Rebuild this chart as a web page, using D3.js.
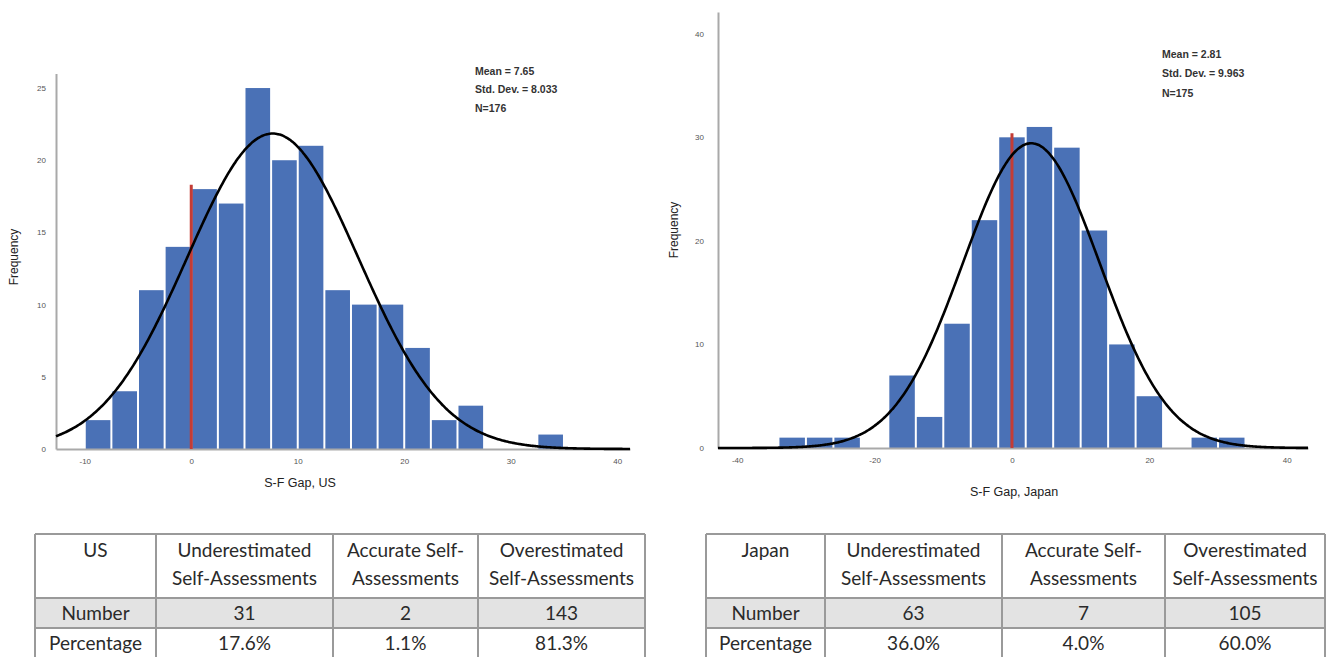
<!DOCTYPE html>
<html><head><meta charset="utf-8">
<script src="https://cdn.jsdelivr.net/npm/d3@7"></script>
<style>
html,body{margin:0;padding:0;background:#fff;}
svg{display:block;}
</style></head>
<body>
<svg id="chart" width="1333" height="657"></svg>
<script>
// ---------- DATA ----------
const usBinStart = [-10,-7.5,-5,-2.5,0,2.5,5,7.5,10,12.5,15,17.5,20,22.5,25,27.5,30,32.5];
const usCounts   = [2,4,11,14,18,17,25,20,21,11,10,10,7,2,3,0,0,1];
const usBinWidth = 2.5;
const usMean = 7.65, usSD = 8.033, usN = 176;
const usRefHeight = 18.3;
const usStatsText = ["Mean = 7.65","Std. Dev. = 8.033","N=176"];
const usXTicks = [-10,0,10,20,30,40];
const usYTicks = [0,5,10,15,20,25];

const jpBinStart = [-34,-30,-26,-22,-18,-14,-10,-6,-2,2,6,10,14,18,22,26,30];
const jpCounts   = [1,1,1,0,7,3,12,22,30,31,29,21,10,5,0,1,1];
const jpBinWidth = 4;
const jpCurveWidth = 4.2;
const jpMean = 2.81, jpSD = 9.963, jpN = 175;
const jpRefHeight = 30.4;
const jpStatsText = ["Mean = 2.81","Std. Dev. = 9.963","N=175"];
const jpXTicks = [-40,-20,0,20,40];
const jpYTicks = [0,10,20,30,40];

const tableHeadUS = ["US","Underestimated\nSelf-Assessments","Accurate Self-\nAssessments","Overestimated\nSelf-Assessments"];
const tableHeadJP = ["Japan","Underestimated\nSelf-Assessments","Accurate Self-\nAssessments","Overestimated\nSelf-Assessments"];
const rowLabels = ["Number","Percentage"];
const usNumbers = ["31","2","143"];
const usPercents = ["17.6%","1.1%","81.3%"];
const jpNumbers = ["63","7","105"];
const jpPercents = ["36.0%","4.0%","60.0%"];

// ---------- DRAW ----------
const svg = d3.select("#chart");
const BAR = "#4a71b6", AXIS = "#a9a9a9", TICKC = "#555";

function drawHist(o){
  const g = svg.append("g");
  const x = d3.scaleLinear().domain(o.xDomain).range(o.xRange);
  const y = d3.scaleLinear().domain(o.yDomain).range(o.yRange);
  // bars
  g.selectAll("rect.bar").data(o.starts.map((s,i)=>({s, c:o.counts[i]})).filter(d=>d.c>0))
    .enter().append("rect").attr("class","bar")
    .attr("x", d=>x(d.s)+1)
    .attr("width", d=>x(d.s+o.bw)-x(d.s)-2)
    .attr("y", d=>y(d.c))
    .attr("height", d=>y(0)-y(d.c))
    .attr("fill", BAR);
  // axes
  const xa = d3.axisBottom(x).tickValues(o.xTicks).tickSize(0).tickPadding(9).tickFormat(d=>String(d));
  const gx = g.append("g").attr("transform",`translate(0,${y(0)})`).call(xa);
  gx.select(".domain").attr("stroke",AXIS).attr("stroke-width",2);
  gx.selectAll("text").attr("fill",TICKC).style("font-family","Liberation Sans, Arial").style("font-size","8px");
  const ya = d3.axisLeft(y).tickValues(o.yTicks).tickSize(0).tickPadding(o.yPad).tickFormat(d=>String(d));
  const gy = g.append("g").attr("transform",`translate(${x(o.xDomain[0])},0)`).call(ya);
  gy.select(".domain").attr("stroke",AXIS).attr("stroke-width",2);
  gy.selectAll("text").attr("fill",TICKC).style("font-family","Liberation Sans, Arial").style("font-size","8px");
  // reference line at 0
  g.append("line").attr("x1",x(0)).attr("x2",x(0)).attr("y1",y(0)).attr("y2",y(o.refH))
    .attr("stroke","#c43c35").attr("stroke-width",3);
  // normal curve
  const pdf = v => o.n*o.cw/(o.sd*Math.sqrt(2*Math.PI))*Math.exp(-0.5*Math.pow((v-o.mean)/o.sd,2));
  const pts = d3.range(0,401).map(i=>{const v=o.xDomain[0]+(o.xDomain[1]-o.xDomain[0])*i/400; return [v,pdf(v)];});
  g.append("path").datum(pts)
    .attr("d", d3.line().x(d=>x(d[0])).y(d=>y(d[1])).curve(d3.curveBasis))
    .attr("fill","none").attr("stroke","#000").attr("stroke-width",2.6);
  // axis titles
  g.append("text").attr("transform",`translate(${o.ylabX},${o.ylabY}) rotate(-90)`)
    .attr("text-anchor","middle").attr("dominant-baseline","middle")
    .style("font-family","Liberation Sans, Arial").style("font-size","12px").attr("fill","#222").text("Frequency");
  g.append("text").attr("x",o.xlabX).attr("y",o.xlabY).attr("text-anchor","middle").attr("dominant-baseline","middle")
    .style("font-family","Liberation Sans, Arial").style("font-size","12.5px").attr("fill","#222").text(o.xlab);
  // stats
  g.selectAll("text.stat").data(o.stats).enter().append("text").attr("class","stat")
    .attr("x",o.statX).attr("y",(d,i)=>o.statY+i*o.statDy).attr("dominant-baseline","middle")
    .style("font-family","Liberation Sans, Arial").style("font-size","10.5px").style("font-weight","bold")
    .attr("fill","#333").text(d=>d);
}

drawHist({starts:usBinStart, counts:usCounts, bw:usBinWidth, cw:usBinWidth, mean:usMean, sd:usSD, n:usN, refH:usRefHeight,
  xDomain:[-12.7,41.2], xRange:[56,630], yDomain:[0,26], yRange:[449,73.6], xTicks:usXTicks, yTicks:usYTicks, yPad:10,
  ylabX:15, ylabY:257, xlab:"S-F Gap, US", xlabX:300, xlabY:484, stats:usStatsText, statX:475, statY:72, statDy:18.5});

drawHist({starts:jpBinStart, counts:jpCounts, bw:jpBinWidth, cw:jpCurveWidth, mean:jpMean, sd:jpSD, n:jpN, refH:jpRefHeight,
  xDomain:[-42.8,43.1], xRange:[718,1308], yDomain:[0,42.1], yRange:[448,12], xTicks:jpXTicks, yTicks:jpYTicks, yPad:14,
  ylabX:675, ylabY:230, xlab:"S-F Gap, Japan", xlabX:1014, xlabY:493, stats:jpStatsText, statX:1162, statY:55, statDy:19.5});

// tables
function drawTable(o){
  const g = svg.append("g");
  const cols = o.cols; // x boundaries
  const rowsY = [o.top, o.top+64, o.top+94, o.top+124];
  g.append("rect").attr("x",cols[0]).attr("y",rowsY[1]).attr("width",cols[4]-cols[0]).attr("height",rowsY[2]-rowsY[1]).attr("fill","#e3e3e3");
  const font = "Lato, 'Open Sans', sans-serif";
  const fs = "19px";
  o.head.forEach((h,i)=>{
    const cx = (cols[i]+cols[i+1])/2;
    const lines = h.split("\n");
    const t = g.append("text").attr("text-anchor","middle").style("font-family",font).style("font-size",fs).attr("fill","#2a2a2a");
    lines.forEach((ln,j)=>t.append("tspan").attr("x",cx).attr("y",o.top+23+j*28).text(ln));
  });
  const rowsData = [[rowLabels[0]].concat(o.nums),[rowLabels[1]].concat(o.pcts)];
  rowsData.forEach((r,ri)=>{
    r.forEach((v,i)=>{
      g.append("text").attr("x",(cols[i]+cols[i+1])/2).attr("y",rowsY[ri+1]+22).attr("text-anchor","middle")
        .style("font-family",font).style("font-size",fs).attr("fill","#2a2a2a").text(v);
    });
  });
  const lc = "#9a9a9a";
  cols.forEach(cx=>g.append("line").attr("x1",cx).attr("x2",cx).attr("y1",o.top).attr("y2",700).attr("stroke",lc).attr("stroke-width",2));
  rowsY.slice(0,3).forEach(yy=>g.append("line").attr("x1",cols[0]).attr("x2",cols[4]).attr("y1",yy).attr("y2",yy).attr("stroke",lc).attr("stroke-width",2));
}
drawTable({cols:[35,156,333,478,645], top:534, head:tableHeadUS, nums:usNumbers, pcts:usPercents});
drawTable({cols:[706,825,1002,1165,1325], top:534, head:tableHeadJP, nums:jpNumbers, pcts:jpPercents});
</script>
</body></html>
